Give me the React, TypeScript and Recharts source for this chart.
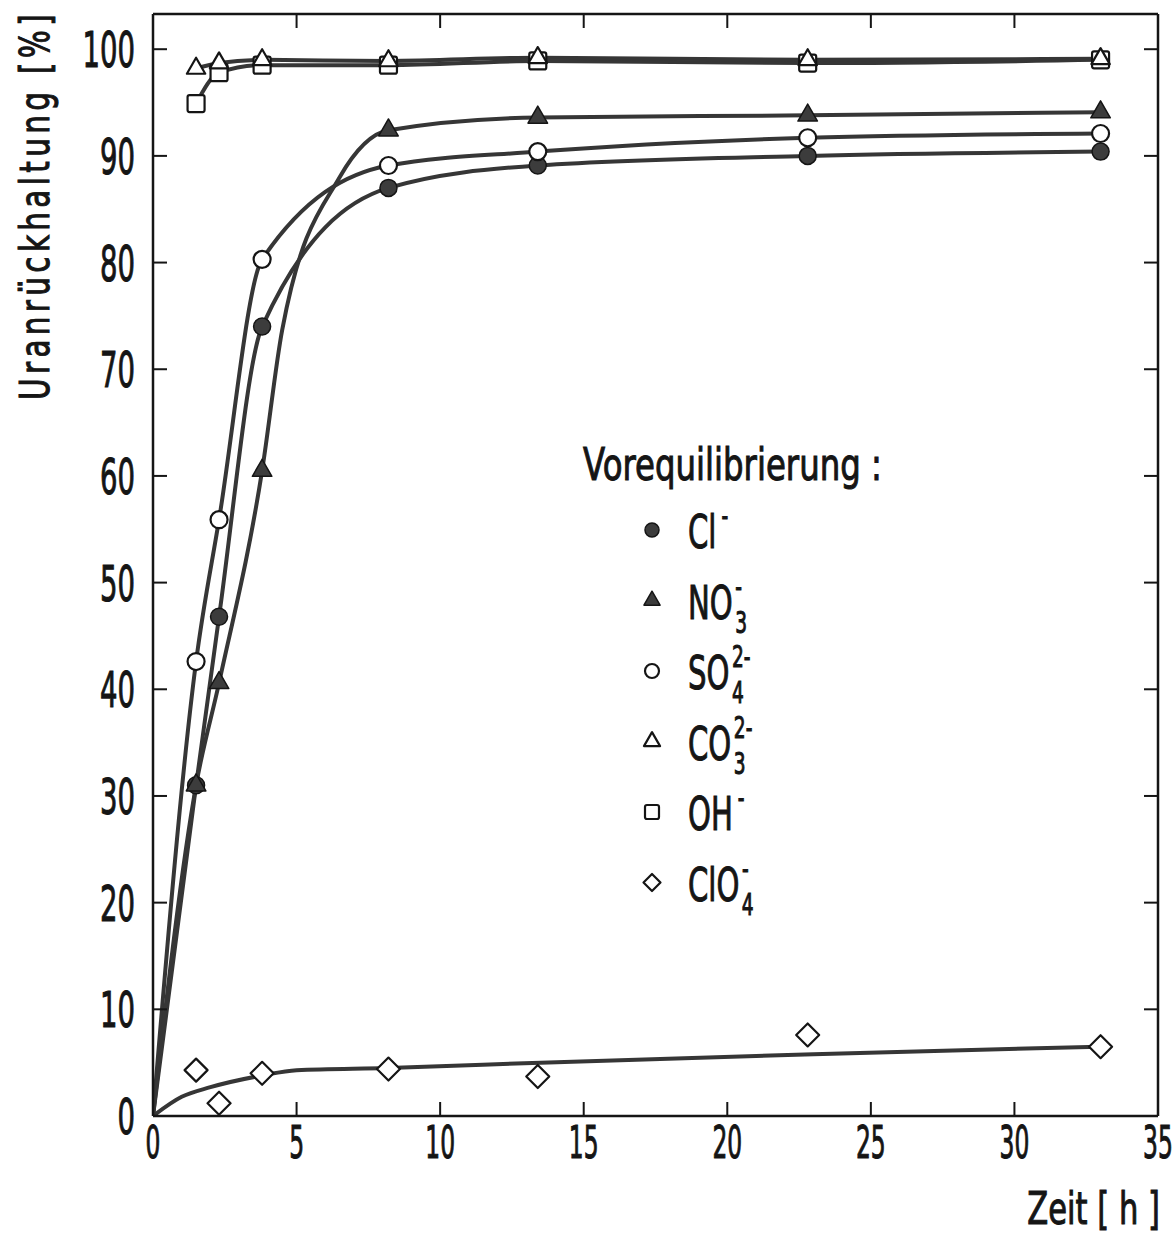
import React from "react";
import { LineChart, Line, XAxis, YAxis, Legend } from "recharts";

// sampling times [h]
const times = [1.5, 2.3, 3.8, 8.2, 13.4, 22.8, 33.0];

// Uranrückhaltung [%] per Vorequilibrierung
const clValues = [31.0, 46.8, 74.0, 87.0, 89.1, 90.0, 90.4];
const no3Values = [31.0, 40.6, 60.5, 92.4, 93.6, 93.8, 94.1];
const so4Values = [42.6, 55.9, 80.3, 89.1, 90.4, 91.7, 92.1];
const co3Values = [98.2, 98.7, 99.0, 98.9, 99.2, 99.0, 99.1];
const ohValues = [94.9, 97.8, 98.5, 98.5, 98.9, 98.7, 99.0];
const clo4Values = [4.3, 1.2, 4.0, 4.4, 3.7, 7.6, 6.5];

// extra points (between markers)
const no3CurveTimes = [4.5, 6.5];
const no3CurveValues = [73.7, 88.0];

// fitted ClO4 curve
const clo4FitTimes = [0, 1, 2, 3.8, 5, 8.2, 13.5, 23, 33];
const clo4FitValues = [0, 1.8, 2.7, 3.8, 4.3, 4.5, 5.0, 5.8, 6.5];

const xTicks = [0, 5, 10, 15, 20, 25, 30, 35];
const xInnerTicks = [5, 10, 15, 20, 25, 30];
const yTicks = [0, 10, 20, 30, 40, 50, 60, 70, 80, 90, 100];
const yInnerTicks = [10, 20, 30, 40, 50, 60, 70, 80, 90, 100];

const legendTitle = "Vorequilibrierung :";
const legendItems = [
  { shape: "dot", main: "Cl", sub: "", sup: "-" },
  { shape: "tri", main: "NO", sub: "3", sup: "-" },
  { shape: "circle", main: "SO", sub: "4", sup: "2-" },
  { shape: "otri", main: "CO", sub: "3", sup: "2-" },
  { shape: "square", main: "OH", sub: "", sup: "-" },
  { shape: "diamond", main: "ClO", sub: "4", sup: "-" },
];

type Pt = { t: number; v: number };
const toPoints = (ts: number[], vs: number[]): Pt[] => ts.map((t, i) => ({ t, v: vs[i] }));
const curveOf = (pts: Pt[], extra: Pt[] = [], origin = true): Pt[] =>
  [...(origin ? [{ t: 0, v: 0 }] : []), ...pts, ...extra].sort((a, b) => a.t - b.t);

const INK = "#151515";
const CURVE = "#363636";
const FILL = "#3c3c3c";
const FONT = "'DejaVu Sans', sans-serif";
const TXT = { fontFamily: FONT, fill: INK, stroke: INK, strokeWidth: 1.1 };

function Marker({ shape, cx, cy, s }: { shape: string; cx: number; cy: number; s: number }) {
  const sw = 2.2;
  switch (shape) {
    case "dot":
      return <circle cx={cx} cy={cy} r={s * 0.5} fill={FILL} stroke={INK} strokeWidth={1.5} />;
    case "circle":
      return <circle cx={cx} cy={cy} r={s * 0.5} fill="#fff" stroke={INK} strokeWidth={sw} />;
    case "tri":
    case "otri": {
      const w = s * 1.15;
      const h = s;
      const pts = `${cx},${cy - (2 * h) / 3} ${cx - w / 2},${cy + h / 3} ${cx + w / 2},${cy + h / 3}`;
      return (
        <polygon
          points={pts}
          fill={shape === "tri" ? FILL : "#fff"}
          stroke={INK}
          strokeWidth={shape === "tri" ? 1.5 : sw}
          strokeLinejoin="round"
        />
      );
    }
    case "square":
      return (
        <rect x={cx - s / 2} y={cy - s / 2} width={s} height={s} rx={2} fill="#fff" stroke={INK} strokeWidth={sw} />
      );
    case "diamond": {
      const r = s / 2;
      return (
        <polygon
          points={`${cx},${cy - r} ${cx + r},${cy} ${cx},${cy + r} ${cx - r},${cy}`}
          fill="#fff"
          stroke={INK}
          strokeWidth={sw}
          strokeLinejoin="round"
        />
      );
    }
    default:
      return null;
  }
}

const dotFor = (shape: string, s: number) => (props: any) => (
  <Marker key={`${shape}-${props.index}`} shape={shape} cx={props.cx} cy={props.cy} s={s} />
);

const NoTick = () => <g />;

const XTick = (p: any) => (
  <text transform={`translate(${p.x},${p.y + 42}) scale(0.52,1)`} textAnchor="middle" fontSize={45} {...TXT}>
    {p.payload.value}
  </text>
);

const YTick = (p: any) => (
  <text transform={`translate(${p.x},${p.y + 18}) scale(0.55,1)`} textAnchor="end" fontSize={50} {...TXT}>
    {p.payload.value}
  </text>
);

const YTitle = () => (
  <text
    transform="translate(49,10) rotate(-90) scale(0.72,1)"
    textAnchor="end"
    fontSize={41}
    letterSpacing={6}
    {...TXT}
  >
    Uranrückhaltung [%]
  </text>
);

const XTitle = () => (
  <text transform="translate(1160,1224) scale(0.68,1)" textAnchor="end" fontSize={45} {...TXT}>
    Zeit  [ h ]
  </text>
);

function LegendBox() {
  return (
    <svg width={360} height={480} style={{ overflow: "visible" }}>
      <text transform="translate(13,50) scale(0.72,1)" fontSize={45} {...TXT}>
        {legendTitle}
      </text>
      {legendItems.map((it, i) => {
        const cy = 100 + i * 70.5;
        return (
          <g key={it.main + i}>
            <Marker shape={it.shape} cx={82} cy={cy} s={it.shape === "diamond" ? 17 : 14} />
            <text transform={`translate(118,${cy + 18}) scale(0.62,1)`} fontSize={47} {...TXT}>
              <tspan>{it.main}</tspan>
              {it.sub ? (
                <tspan fontSize={30} dx={4} dy={14}>
                  {it.sub}
                </tspan>
              ) : null}
              <tspan fontSize={30} dx={it.sub ? -19 : 8} dy={it.sub ? -36 : -22}>
                {it.sup}
              </tspan>
            </text>
          </g>
        );
      })}
    </svg>
  );
}

const frame = { stroke: INK, strokeWidth: 2.5 };
const tickLn = { stroke: INK, strokeWidth: 2 };

export default function App() {
  const clPts = toPoints(times, clValues);
  const no3Pts = toPoints(times, no3Values);
  const so4Pts = toPoints(times, so4Values);
  const co3Pts = toPoints(times, co3Values);
  const ohPts = toPoints(times, ohValues);
  const clo4Pts = toPoints(times, clo4Values);
  const no3Extra = toPoints(no3CurveTimes, no3CurveValues);
  const clo4Fit = toPoints(clo4FitTimes, clo4FitValues);

  const curveProps = {
    xAxisId: "x",
    yAxisId: "y",
    dataKey: "v",
    type: "monotone" as const,
    stroke: CURVE,
    strokeWidth: 4,
    dot: false,
    activeDot: false,
    isAnimationActive: false,
  };
  const markProps = {
    xAxisId: "x",
    yAxisId: "y",
    dataKey: "v",
    stroke: "none",
    activeDot: false,
    isAnimationActive: false,
  };

  return (
    <div style={{ position: "absolute", left: 0, top: 0, width: 1176, height: 1236, background: "#fff" }}>
      <LineChart width={1176} height={1236} margin={{ top: 14, right: 18, bottom: 80, left: 73 }}>
        <XAxis
          xAxisId="x"
          type="number"
          dataKey="t"
          domain={[0, 35]}
          ticks={xTicks}
          interval={0}
          allowDataOverflow
          height={40}
          axisLine={false}
          tickLine={false}
          tickSize={0}
          tickMargin={0}
          tick={<XTick />}
          label={{ content: <XTitle /> }}
        />
        <XAxis
          xAxisId="xb"
          type="number"
          dataKey="t"
          domain={[0, 35]}
          ticks={xInnerTicks}
          interval={0}
          allowDataOverflow
          mirror
          orientation="bottom"
          height={30}
          axisLine={frame}
          tickLine={tickLn}
          tickSize={14}
          tick={<NoTick />}
        />
        <XAxis
          xAxisId="xt"
          type="number"
          dataKey="t"
          domain={[0, 35]}
          ticks={xInnerTicks}
          interval={0}
          allowDataOverflow
          mirror
          orientation="top"
          height={30}
          axisLine={frame}
          tickLine={tickLn}
          tickSize={14}
          tick={<NoTick />}
        />
        <YAxis
          yAxisId="y"
          type="number"
          domain={[0, 103.3]}
          ticks={yTicks}
          interval={0}
          allowDataOverflow
          width={80}
          axisLine={false}
          tickLine={false}
          tickSize={0}
          tickMargin={18}
          tick={<YTick />}
          label={{ content: <YTitle /> }}
        />
        <YAxis
          yAxisId="yl"
          type="number"
          domain={[0, 103.3]}
          ticks={yInnerTicks}
          interval={0}
          allowDataOverflow
          mirror
          orientation="left"
          width={30}
          axisLine={frame}
          tickLine={tickLn}
          tickSize={14}
          tick={<NoTick />}
        />
        <YAxis
          yAxisId="yr"
          type="number"
          domain={[0, 103.3]}
          ticks={yInnerTicks}
          interval={0}
          allowDataOverflow
          mirror
          orientation="right"
          width={30}
          axisLine={frame}
          tickLine={tickLn}
          tickSize={14}
          tick={<NoTick />}
        />

        {/* curves */}
        <Line {...curveProps} data={curveOf(clo4Fit, [], false)} />
        <Line {...curveProps} data={curveOf(ohPts, [], false)} />
        <Line {...curveProps} data={curveOf(co3Pts, [], false)} />
        <Line {...curveProps} data={curveOf(clPts)} />
        <Line {...curveProps} data={curveOf(so4Pts)} />
        <Line {...curveProps} data={curveOf(no3Pts, no3Extra)} />

        {/* markers */}
        <Line {...markProps} data={clo4Pts} dot={dotFor("diamond", 23)} />
        <Line {...markProps} data={ohPts} dot={dotFor("square", 17)} />
        <Line {...markProps} data={co3Pts} dot={dotFor("otri", 16)} />
        <Line {...markProps} data={clPts} dot={dotFor("dot", 17)} />
        <Line {...markProps} data={no3Pts} dot={dotFor("tri", 17)} />
        <Line {...markProps} data={so4Pts} dot={dotFor("circle", 17)} />

        <Legend
          layout="vertical"
          align="center"
          verticalAlign="middle"
          wrapperStyle={{ position: "absolute", left: 570, top: 430, width: 360, height: 480 }}
          content={() => <LegendBox />}
        />
      </LineChart>
    </div>
  );
}
